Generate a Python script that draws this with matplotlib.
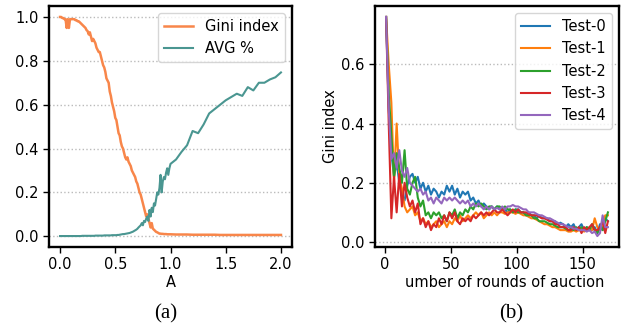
import numpy as np
import matplotlib
matplotlib.use("Agg")
import matplotlib.pyplot as plt

# ---------------- Panel (a) data ----------------
a_values = np.concatenate([np.round(np.arange(0, 1.001, 0.01), 2),
                           np.round(np.arange(1.05, 2.001, 0.05), 2)])

gini_a = [
    1.00, 1.00, 0.995, 0.995, 0.99, 0.99, 0.95, 0.99, 0.95, 0.99,
    0.99, 0.99, 0.99, 0.99, 0.985, 0.985, 0.98, 0.98, 0.975, 0.97,
    0.965, 0.96, 0.955, 0.95, 0.94, 0.935, 0.92, 0.93, 0.91, 0.89,
    0.90, 0.89, 0.88, 0.86, 0.85, 0.84, 0.84, 0.82, 0.80, 0.78,
    0.77, 0.75, 0.72, 0.71, 0.70, 0.66, 0.64, 0.61, 0.59, 0.57,
    0.54, 0.53, 0.50, 0.47, 0.46, 0.43, 0.41, 0.40, 0.38, 0.36,
    0.35, 0.36, 0.34, 0.33, 0.32, 0.30, 0.29, 0.28, 0.27, 0.25,
    0.24, 0.22, 0.20, 0.19, 0.17, 0.15, 0.13, 0.11, 0.09, 0.10,
    0.08, 0.06, 0.04, 0.06, 0.035, 0.03, 0.025, 0.02, 0.018, 0.015,
    0.012, 0.012, 0.011, 0.011, 0.010, 0.010, 0.010, 0.009, 0.009, 0.009, 0.009,
    0.008, 0.008, 0.008, 0.007, 0.007, 0.007, 0.007, 0.007, 0.006, 0.006,
    0.006, 0.006, 0.006, 0.006, 0.006, 0.006, 0.006, 0.006, 0.006, 0.006,
]

avg_a = [
    0.001, 0.001, 0.001, 0.001, 0.001, 0.001, 0.001, 0.001, 0.001, 0.001,
    0.001, 0.001, 0.001, 0.001, 0.001, 0.001, 0.001, 0.001, 0.001, 0.001,
    0.002, 0.002, 0.002, 0.002, 0.002, 0.002, 0.002, 0.002, 0.002, 0.002,
    0.002, 0.002, 0.003, 0.003, 0.003, 0.003, 0.003, 0.003, 0.003, 0.003,
    0.004, 0.004, 0.004, 0.004, 0.004, 0.004, 0.004, 0.005, 0.005, 0.005,
    0.005, 0.005, 0.006, 0.006, 0.007, 0.008, 0.009, 0.010, 0.010, 0.011,
    0.012, 0.013, 0.014, 0.015, 0.017, 0.019, 0.021, 0.024, 0.027, 0.030,
    0.034, 0.040, 0.045, 0.05, 0.06, 0.05, 0.07, 0.065, 0.08, 0.09,
    0.07, 0.12, 0.09, 0.13, 0.11, 0.15, 0.14, 0.17, 0.20, 0.19,
    0.22, 0.28, 0.20, 0.25, 0.27, 0.26, 0.29, 0.31, 0.28, 0.31, 0.33,
    0.35, 0.385, 0.415, 0.48, 0.47, 0.51, 0.56, 0.58, 0.60, 0.62,
    0.635, 0.65, 0.64, 0.68, 0.665, 0.70, 0.70, 0.715, 0.725, 0.747,
]

# ---------------- Panel (b) data ----------------
rounds = np.arange(1, 170, 2)

test0 = [
    0.76, 0.45, 0.30, 0.22, 0.27, 0.20, 0.16, 0.14, 0.19, 0.22,
    0.23, 0.20, 0.22, 0.18, 0.20, 0.17, 0.19, 0.16, 0.18, 0.17,
    0.15, 0.17, 0.16, 0.19, 0.17, 0.19, 0.16, 0.18, 0.15, 0.17,
    0.16, 0.17, 0.14, 0.15, 0.13, 0.14, 0.12, 0.13, 0.12, 0.11,
    0.12, 0.11, 0.12, 0.11, 0.11, 0.11, 0.10, 0.11, 0.10, 0.11,
    0.11, 0.10, 0.10, 0.09, 0.10, 0.09, 0.09, 0.08, 0.09, 0.08,
    0.08, 0.08, 0.07, 0.07, 0.07, 0.06, 0.065, 0.06, 0.05, 0.06,
    0.05, 0.06, 0.04, 0.05, 0.06, 0.04, 0.05, 0.04, 0.04, 0.05,
    0.03, 0.06, 0.04, 0.08, 0.07,
]
test1 = [
    0.76, 0.60, 0.47, 0.20, 0.40, 0.22, 0.18, 0.12, 0.10, 0.11,
    0.12, 0.09, 0.10, 0.07, 0.08, 0.06, 0.07, 0.05, 0.06, 0.07,
    0.05, 0.06, 0.07, 0.05, 0.07, 0.06, 0.08, 0.07, 0.09, 0.07,
    0.08, 0.09, 0.08, 0.09, 0.10, 0.09, 0.10, 0.08, 0.09, 0.10,
    0.09, 0.10, 0.09, 0.10, 0.10, 0.095, 0.10, 0.10, 0.10, 0.095,
    0.10, 0.095, 0.09, 0.09, 0.085, 0.08, 0.08, 0.075, 0.07, 0.065,
    0.06, 0.06, 0.055, 0.05, 0.05, 0.045, 0.04, 0.04, 0.04, 0.035,
    0.035, 0.04, 0.035, 0.04, 0.04, 0.035, 0.04, 0.05, 0.04, 0.08,
    0.05, 0.04, 0.06, 0.09, 0.09,
]
test2 = [
    0.76, 0.50, 0.36, 0.22, 0.30, 0.25, 0.20, 0.31, 0.18, 0.16,
    0.20, 0.22, 0.15, 0.12, 0.14, 0.09, 0.10, 0.08, 0.10, 0.09,
    0.10, 0.08, 0.09, 0.07, 0.10, 0.09, 0.11, 0.08, 0.10, 0.09,
    0.11, 0.10, 0.12, 0.11, 0.13, 0.12, 0.13, 0.12, 0.11, 0.12,
    0.12, 0.11, 0.12, 0.12, 0.11, 0.12, 0.11, 0.11, 0.10, 0.11,
    0.10, 0.10, 0.10, 0.09, 0.09, 0.09, 0.08, 0.08, 0.07, 0.07,
    0.07, 0.065, 0.06, 0.06, 0.055, 0.05, 0.05, 0.05, 0.045, 0.04,
    0.045, 0.04, 0.05, 0.04, 0.05, 0.04, 0.05, 0.04, 0.06, 0.04,
    0.03, 0.05, 0.04, 0.07, 0.10,
]
test3 = [
    0.76, 0.40, 0.08, 0.22, 0.10, 0.23, 0.12, 0.20, 0.15, 0.12,
    0.14, 0.10, 0.13, 0.06, 0.08, 0.05, 0.07, 0.04, 0.06, 0.05,
    0.08, 0.06, 0.09, 0.07, 0.10, 0.08, 0.10, 0.07, 0.06, 0.08,
    0.07, 0.08, 0.07, 0.09, 0.08, 0.09, 0.10, 0.09, 0.10, 0.09,
    0.10, 0.11, 0.10, 0.10, 0.11, 0.10, 0.09, 0.10, 0.11, 0.10,
    0.11, 0.10, 0.10, 0.10, 0.095, 0.09, 0.09, 0.09, 0.085, 0.08,
    0.08, 0.075, 0.07, 0.07, 0.06, 0.06, 0.05, 0.05, 0.05, 0.04,
    0.04, 0.05, 0.04, 0.05, 0.03, 0.05, 0.04, 0.05, 0.06, 0.04,
    0.04, 0.05, 0.07, 0.03, 0.07,
]
test4 = [
    0.76, 0.45, 0.28, 0.30, 0.25, 0.31, 0.24, 0.22, 0.25, 0.20,
    0.19, 0.18, 0.17, 0.18, 0.16, 0.17, 0.14, 0.15, 0.13, 0.15,
    0.14, 0.13, 0.15, 0.14, 0.15, 0.14, 0.15, 0.14, 0.13, 0.14,
    0.13, 0.14, 0.12, 0.13, 0.12, 0.13, 0.12, 0.11, 0.12, 0.11,
    0.12, 0.11, 0.115, 0.11, 0.12, 0.11, 0.12, 0.12, 0.125, 0.12,
    0.12, 0.115, 0.11, 0.11, 0.10, 0.10, 0.10, 0.095, 0.09, 0.09,
    0.085, 0.08, 0.08, 0.075, 0.07, 0.065, 0.06, 0.06, 0.055, 0.05,
    0.05, 0.045, 0.045, 0.04, 0.04, 0.04, 0.035, 0.04, 0.03, 0.035,
    0.02, 0.03, 0.09, 0.05, 0.05,
]
test_series = [test0, test1, test2, test3, test4]
test_labels = ["Test-0", "Test-1", "Test-2", "Test-3", "Test-4"]
test_colors = ["#1f77b4", "#ff7f0e", "#2ca02c", "#d62728", "#9467bd"]

# ---------------- Figure ----------------
plt.rcParams['font.family'] = ['DejaVu Sans']
plt.rcParams['font.size'] = 10.5

fig = plt.figure(figsize=(6.21, 3.31), dpi=100)
W, H = 621, 331

def box(l, r, t, b):
    return [l / W, 1 - b / H, (r - l) / W, (b - t) / H]

ax1 = fig.add_axes(box(49, 292, 6, 247))
ax2 = fig.add_axes(box(375, 619, 6, 247))

for ax in (ax1, ax2):
    ax.grid(axis='y', linestyle=':', color='#bbbbbb', linewidth=1.0)
    ax.set_axisbelow(True)
    for s in ax.spines.values():
        s.set_linewidth(1.7)
    ax.tick_params(width=1.0, length=4)

ax1.plot(a_values, gini_a, color='#f8864a', lw=1.8, label='Gini index')
ax1.plot(a_values, avg_a, color='#4a9691', lw=1.5, label='AVG %')
ax1.set_xticks([0.0, 0.5, 1.0, 1.5, 2.0])
ax1.set_yticks([0.0, 0.2, 0.4, 0.6, 0.8, 1.0])
ax1.set_xlabel('A', labelpad=2)
ax1.legend(loc='upper right', fontsize=10.5)

for ys, lab, col in zip(test_series, test_labels, test_colors):
    ax2.plot(rounds, ys, color=col, lw=1.5, label=lab)
ax2.set_xticks([0, 50, 100, 150])
ax2.set_yticks([0.0, 0.2, 0.4, 0.6])
ax2.set_ylabel('Gini index', labelpad=2)
ax2.set_xlabel('umber of rounds of auction', labelpad=2)
ax2.xaxis.label.set_x((505 - 375) / 244)
ax2.legend(loc='upper right', fontsize=10.5)

fig.text(166 / W, 1 - 314 / H, '(a)', family='Liberation Serif', fontsize=15,
         ha='center', va='center')
fig.text(511 / W, 1 - 314 / H, '(b)', family='Liberation Serif', fontsize=15,
         ha='center', va='center')

fig.savefig('out.png', dpi=100)
